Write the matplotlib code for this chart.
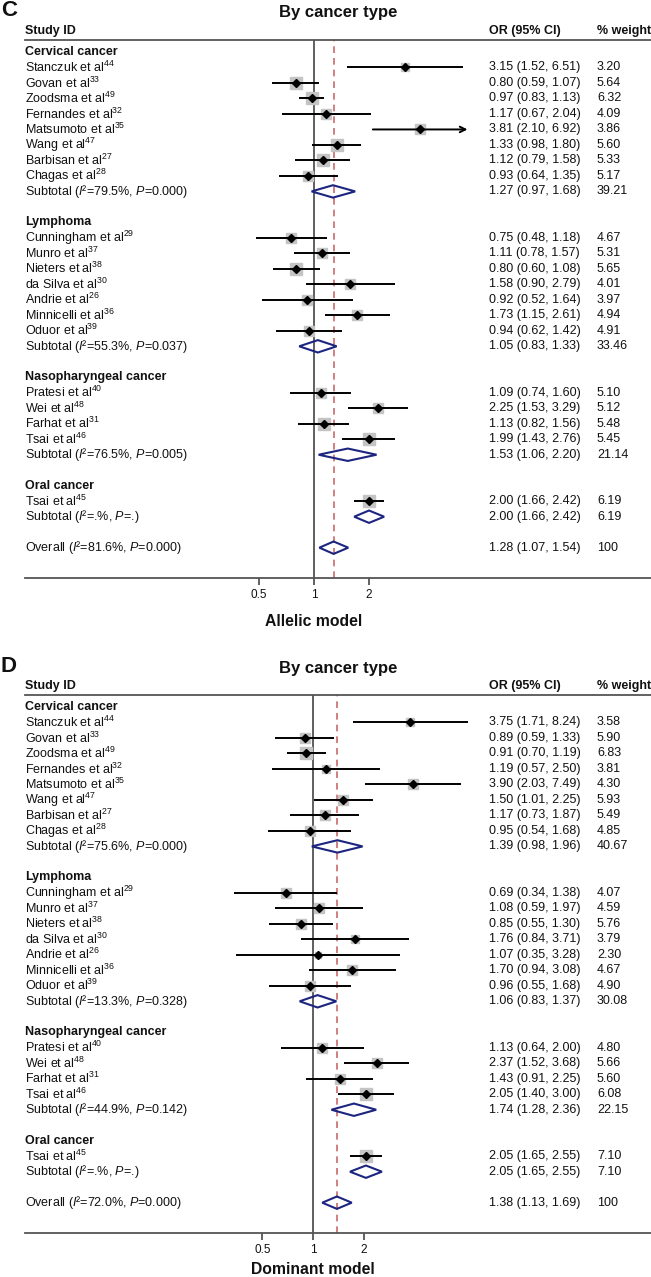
import numpy as np
import matplotlib.pyplot as plt
from matplotlib.patches import Polygon
from matplotlib.ticker import NullLocator
from matplotlib.transforms import blended_transform_factory

plt.rcParams['font.family'] = ['Liberation Sans', 'DejaVu Sans']
plt.rcParams['mathtext.fontset'] = 'custom'
plt.rcParams['mathtext.rm'] = 'Liberation Sans'
plt.rcParams['mathtext.it'] = 'Liberation Sans:italic'
plt.rcParams['mathtext.bf'] = 'Liberation Sans:bold'

# ---- data ----
groups = ["Cervical cancer", "Lymphoma", "Nasopharyngeal cancer", "Oral cancer"]
studies = ["Stanczuk", "Govan", "Zoodsma", "Fernandes", "Matsumoto", "Wang", "Barbisan", "Chagas",
           "Cunningham", "Munro", "Nieters", "da Silva", "Andrie", "Minnicelli", "Oduor",
           "Pratesi", "Wei", "Farhat", "Tsai",
           "Tsai"]
refs = [44, 33, 49, 32, 35, 47, 27, 28,
        29, 37, 38, 30, 26, 36, 39,
        40, 48, 31, 46,
        45]
study_group = [0] * 8 + [1] * 7 + [2] * 4 + [3]

# C: allelic model
allelic_or = [3.15, 0.80, 0.97, 1.17, 3.81, 1.33, 1.12, 0.93,
              0.75, 1.11, 0.80, 1.58, 0.92, 1.73, 0.94,
              1.09, 2.25, 1.13, 1.99,
              2.00]
allelic_lo = [1.52, 0.59, 0.83, 0.67, 2.10, 0.98, 0.79, 0.64,
              0.48, 0.78, 0.60, 0.90, 0.52, 1.15, 0.62,
              0.74, 1.53, 0.82, 1.43,
              1.66]
allelic_hi = [6.51, 1.07, 1.13, 2.04, 6.92, 1.80, 1.58, 1.35,
              1.18, 1.57, 1.08, 2.79, 1.64, 2.61, 1.42,
              1.60, 3.29, 1.56, 2.76,
              2.42]
allelic_w = [3.20, 5.64, 6.32, 4.09, 3.86, 5.60, 5.33, 5.17,
             4.67, 5.31, 5.65, 4.01, 3.97, 4.94, 4.91,
             5.10, 5.12, 5.48, 5.45,
             6.19]
allelic_sub_i2 = ["79.5%", "55.3%", "76.5%", ".%"]
allelic_sub_p = ["0.000", "0.037", "0.005", "."]
allelic_sub_or = [1.27, 1.05, 1.53, 2.00]
allelic_sub_lo = [0.97, 0.83, 1.06, 1.66]
allelic_sub_hi = [1.68, 1.33, 2.20, 2.42]
allelic_sub_w = [39.21, 33.46, 21.14, 6.19]
allelic_overall = ("81.6%", "0.000", 1.28, 1.07, 1.54, 100)

# D: dominant model
dominant_or = [3.75, 0.89, 0.91, 1.19, 3.90, 1.50, 1.17, 0.95,
               0.69, 1.08, 0.85, 1.76, 1.07, 1.70, 0.96,
               1.13, 2.37, 1.43, 2.05,
               2.05]
dominant_lo = [1.71, 0.59, 0.70, 0.57, 2.03, 1.01, 0.73, 0.54,
               0.34, 0.59, 0.55, 0.84, 0.35, 0.94, 0.55,
               0.64, 1.52, 0.91, 1.40,
               1.65]
dominant_hi = [8.24, 1.33, 1.19, 2.50, 7.49, 2.25, 1.87, 1.68,
               1.38, 1.97, 1.30, 3.71, 3.28, 3.08, 1.68,
               2.00, 3.68, 2.25, 3.00,
               2.55]
dominant_w = [3.58, 5.90, 6.83, 3.81, 4.30, 5.93, 5.49, 4.85,
              4.07, 4.59, 5.76, 3.79, 2.30, 4.67, 4.90,
              4.80, 5.66, 5.60, 6.08,
              7.10]
dominant_sub_i2 = ["75.6%", "13.3%", "44.9%", ".%"]
dominant_sub_p = ["0.000", "0.328", "0.142", "."]
dominant_sub_or = [1.39, 1.06, 1.74, 2.05]
dominant_sub_lo = [0.98, 0.83, 1.28, 1.65]
dominant_sub_hi = [1.96, 1.37, 2.36, 2.55]
dominant_sub_w = [40.67, 30.08, 22.15, 7.10]
dominant_overall = ("72.0%", "0.000", 1.38, 1.13, 1.69, 100)

W, H = 651, 1277
fig = plt.figure(figsize=(W / 100, H / 100), dpi=100)

FS = 9.0
TXT = '#111111'
AXC = '#555555'
NAVY = '#1c2580'


def fx(px):
    return px / W


def fy(py):
    return 1 - py / H


def fmt_w(w):
    return f"{w:.2f}" if w != int(w) else f"{int(w)}"


def draw_panel(letter, off, one_px, px_oct, model, model_y, ors, los, his, ws,
               s_i2, s_p, s_or, s_lo, s_hi, s_w, overall, cap=None):
    x0, x1 = 25, 651
    ytop, ybot = 40 + off, 578 + off
    row0, step = 52 + off, 15.49
    ax = fig.add_axes([fx(x0), fy(ybot), fx(x1 - x0), (ybot - ytop) / H])
    ax.set_ylim((ybot - row0) / step, (ytop - row0) / step)
    ax.set_xscale('log', base=2)
    ax.set_xlim(2 ** (-(one_px - x0) / px_oct), 2 ** ((x1 - one_px) / px_oct))
    ax.set_facecolor('none')
    for s in ['left', 'right']:
        ax.spines[s].set_visible(False)
    for s in ['top', 'bottom']:
        ax.spines[s].set_color(AXC)
        ax.spines[s].set_linewidth(1.3)
    ax.set_xticks([0.5, 1, 2])
    ax.set_xticklabels(['0.5', '1', '2'])
    ax.xaxis.set_minor_locator(NullLocator())
    ax.tick_params(axis='x', length=5, width=1.3, color=AXC, labelsize=8.5, pad=3, labelcolor=TXT)
    ax.tick_params(axis='y', left=False, labelleft=False)

    tr = blended_transform_factory(fig.transFigure, ax.transData)
    xl, xo, xw = fx(25), fx(489), fx(597)

    hdr_row = (31 + off - row0) / step
    ax.text(xl, hdr_row, "Study ID", transform=tr, fontsize=FS, weight='bold', va='center', color=TXT)
    ax.text(xo, hdr_row, "OR (95% CI)", transform=tr, fontsize=FS, weight='bold', va='center', color=TXT)
    ax.text(xw, hdr_row, "% weight", transform=tr, fontsize=FS, weight='bold', va='center', color=TXT)

    wmax = max(ws)
    r = 0
    for g, gname in enumerate(groups):
        ax.text(xl, r, gname, transform=tr, fontsize=FS, weight='bold', va='center', color=TXT)
        r += 1
        for i in [k for k, sg in enumerate(study_group) if sg == g]:
            ax.text(xl, r, f"{studies[i]} et al$^{{{refs[i]}}}$", transform=tr, fontsize=FS,
                    va='center', color=TXT)
            ax.text(xo, r, f"{ors[i]:.2f} ({los[i]:.2f}, {his[i]:.2f})", transform=tr,
                    fontsize=FS, va='center', color=TXT)
            ax.text(xw, r, fmt_w(ws[i]), transform=tr, fontsize=FS, va='center', color=TXT)
            side = 12 * np.sqrt(ws[i] / wmax) * 0.72
            ax.plot(ors[i], r, marker='s', ms=side, color='#c4c4c4', mec='#c4c4c4', zorder=2)
            if cap is not None and his[i] > cap:
                ax.annotate('', xy=(his[i], r), xytext=(los[i], r),
                            arrowprops=dict(arrowstyle='->', lw=1.4, color='k',
                                            shrinkA=0, shrinkB=0), zorder=3)
            else:
                ax.plot([los[i], his[i]], [r, r], color='k', lw=1.4, zorder=3,
                        solid_capstyle='butt')
            ax.plot(ors[i], r, marker='D', ms=3.6, color='k', zorder=4)
            r += 1
        ax.text(xl, r, f"Subtotal ($I$\u00b2={s_i2[g]}, $P$={s_p[g]})", transform=tr,
                fontsize=FS, va='center', color=TXT)
        ax.text(xo, r, f"{s_or[g]:.2f} ({s_lo[g]:.2f}, {s_hi[g]:.2f})", transform=tr,
                fontsize=FS, va='center', color=TXT)
        ax.text(xw, r, fmt_w(s_w[g]), transform=tr, fontsize=FS, va='center', color=TXT)
        ax.add_patch(Polygon([[s_lo[g], r], [s_or[g], r - 0.4], [s_hi[g], r], [s_or[g], r + 0.4]],
                             closed=True, fill=False, ec=NAVY, lw=1.5, zorder=4))
        r += 2

    i2, p, o, lo, hi, w = overall
    ax.text(xl, r, f"Overall ($I$\u00b2={i2}, $P$={p})", transform=tr, fontsize=FS, va='center', color=TXT)
    ax.text(xo, r, f"{o:.2f} ({lo:.2f}, {hi:.2f})", transform=tr, fontsize=FS, va='center', color=TXT)
    ax.text(xw, r, fmt_w(w), transform=tr, fontsize=FS, va='center', color=TXT)
    ax.add_patch(Polygon([[lo, r], [o, r - 0.4], [hi, r], [o, r + 0.4]],
                         closed=True, fill=False, ec=NAVY, lw=1.5, zorder=4))

    ax.axvline(1, color='#444444', lw=1.2, zorder=1)
    ax.axvline(o, color='#c86a6a', lw=1.2, ls=(0, (4, 3)), zorder=1)

    fig.text(fx(1), fy(11 + off), letter, fontsize=16, weight='bold', va='center', ha='left', color=TXT)
    fig.text(fx(338), fy(13 + off), "By cancer type", fontsize=12, weight='bold',
             ha='center', va='center', color=TXT)
    fig.text(fx(one_px), fy(model_y), model, fontsize=11.3, weight='bold',
             ha='center', va='center', color=TXT)


draw_panel("C", 0, 314, 55, "Allelic model", 621,
           allelic_or, allelic_lo, allelic_hi, allelic_w,
           allelic_sub_i2, allelic_sub_p, allelic_sub_or, allelic_sub_lo, allelic_sub_hi, allelic_sub_w,
           allelic_overall, cap=6.6)
draw_panel("D", 655, 313.3, 50.8, "Dominant model", 1269,
           dominant_or, dominant_lo, dominant_hi, dominant_w,
           dominant_sub_i2, dominant_sub_p, dominant_sub_or, dominant_sub_lo, dominant_sub_hi, dominant_sub_w,
           dominant_overall)

fig.savefig('out.png', dpi=100)
